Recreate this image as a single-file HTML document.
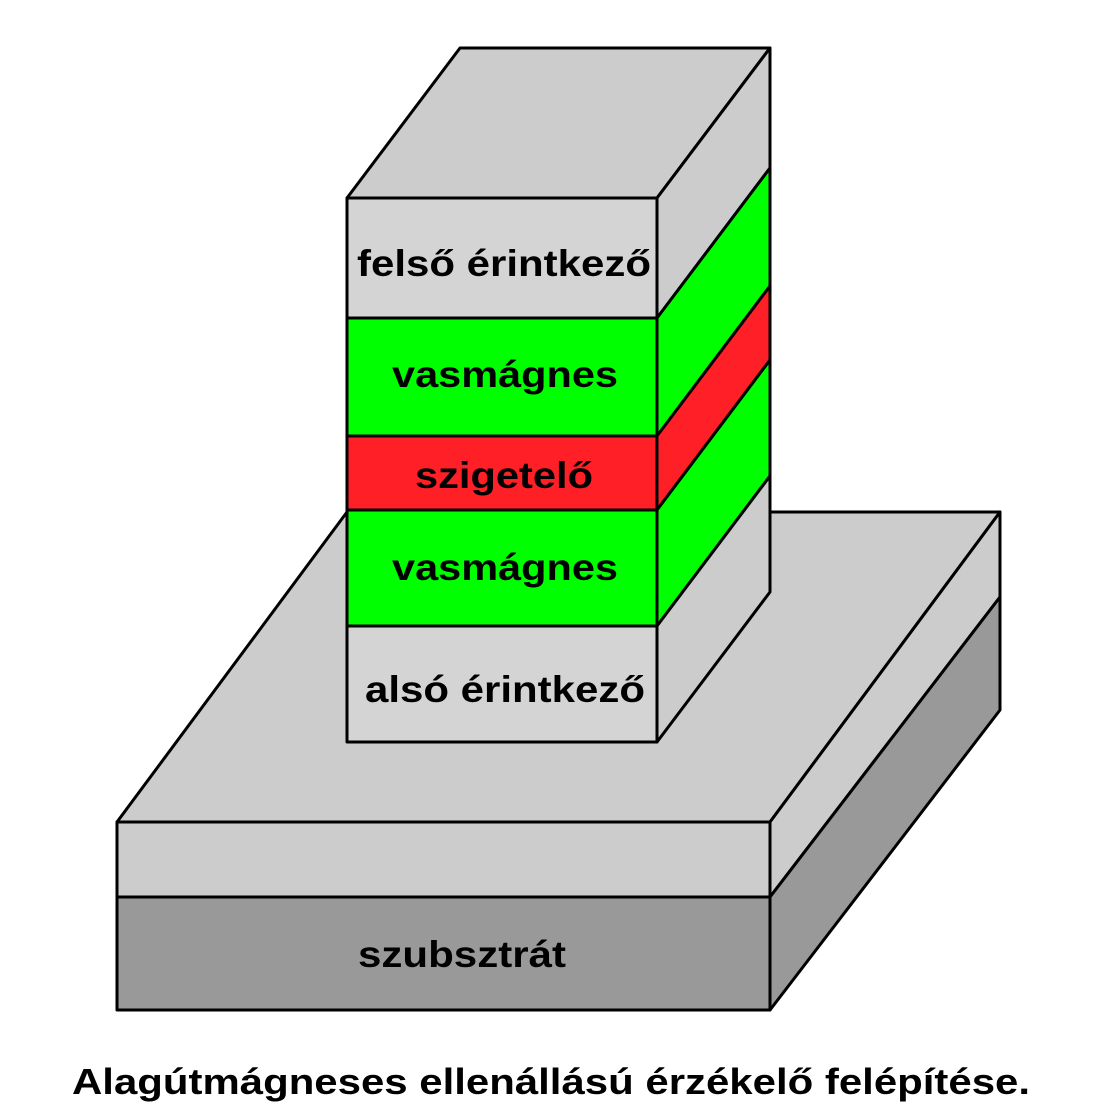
<!DOCTYPE html>
<html><head><style>body{margin:0;background:#fff}svg{display:block}text{font-family:"Liberation Sans",Arial,sans-serif;font-weight:bold;fill:#000}</style></head>
<body>
<svg width="1120" height="1120" viewBox="0 0 1120 1120" xmlns="http://www.w3.org/2000/svg">
<g stroke="#000" stroke-width="3" stroke-linejoin="round">
<polygon points="117,822 347,512 1000,512 770,822" fill="#cccccc"/>
<polygon points="117,822 770,822 770,897 117,897" fill="#cccccc"/>
<polygon points="117,897 770,897 770,1010 117,1010" fill="#999999"/>
<polygon points="770,822 1000,512 1000,597 770,897" fill="#cccccc"/>
<polygon points="770,897 1000,597 1000,710 770,1010" fill="#999999"/>
<polygon points="347,198 460,48 770,48 657,198" fill="#cccccc"/>
<rect x="347" y="198" width="310" height="120" fill="#d4d4d4"/>
<rect x="347" y="318" width="310" height="118" fill="#00ff00"/>
<rect x="347" y="436" width="310" height="74" fill="#ff1f26"/>
<rect x="347" y="510" width="310" height="116" fill="#00ff00"/>
<rect x="347" y="626" width="310" height="116" fill="#d4d4d4"/>
<polygon points="657,198 770,48 770,168 657,318" fill="#cccccc"/>
<polygon points="657,318 770,168 770,286 657,436" fill="#00ff00"/>
<polygon points="657,436 770,286 770,360 657,510" fill="#ff1f26"/>
<polygon points="657,510 770,360 770,476 657,626" fill="#00ff00"/>
<polygon points="657,626 770,476 770,592 657,742" fill="#cccccc"/>
</g>
<g font-size="37" lengthAdjust="spacingAndGlyphs">
<text x="357" y="276" textLength="294" lengthAdjust="spacingAndGlyphs">felső érintkező</text>
<text x="392" y="387" textLength="226" lengthAdjust="spacingAndGlyphs">vasmágnes</text>
<text x="415" y="488" textLength="178" lengthAdjust="spacingAndGlyphs">szigetelő</text>
<text x="392" y="580" textLength="226" lengthAdjust="spacingAndGlyphs">vasmágnes</text>
<text x="365" y="702" textLength="280" lengthAdjust="spacingAndGlyphs">alsó érintkező</text>
<text x="358" y="967" textLength="208" lengthAdjust="spacingAndGlyphs">szubsztrát</text>
<text x="72" y="1094" font-size="36" textLength="958" lengthAdjust="spacingAndGlyphs">Alagútmágneses ellenállású érzékelő felépítése.</text>
</g>
</svg>
</body></html>
